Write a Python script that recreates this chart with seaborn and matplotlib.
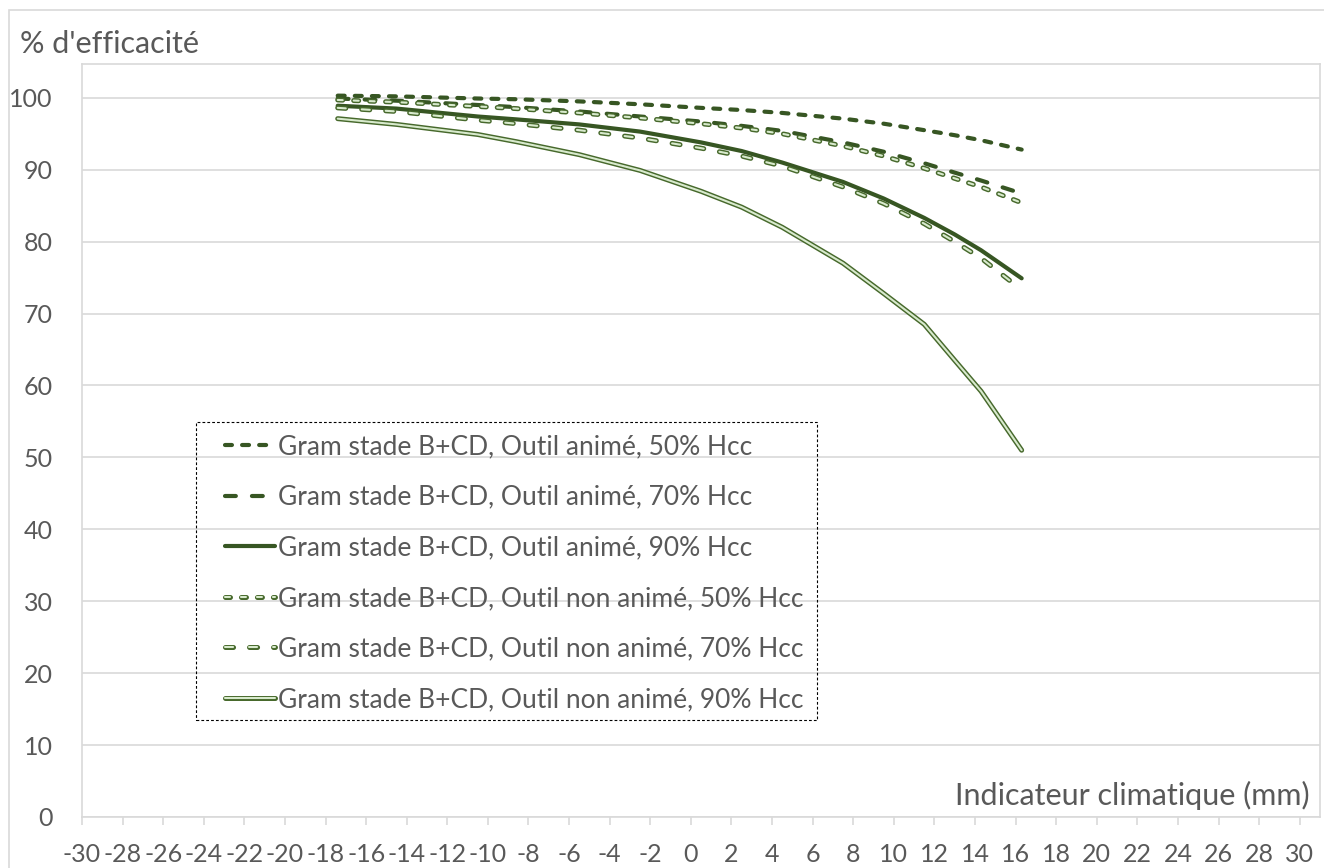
import numpy as np
import pandas as pd
import matplotlib
matplotlib.use("Agg")
import matplotlib.pyplot as plt
import matplotlib.patheffects as pe
from matplotlib.patches import Rectangle
import seaborn as sns

# valeurs
indicateur = [-17.4, -14.5, -10.5, -8.6, -5.5, -2.5, 0.5, 2.5, 4.5, 7.5, 9.5, 11.5, 13.0, 14.3, 16.3]

anime_50 = [100.3, 100.2, 99.9, 99.8, 99.5, 99.1, 98.6, 98.3, 97.9, 97.1, 96.4, 95.5, 94.8, 94.1, 92.8]
anime_70 = [99.9, 99.6, 99.0, 98.7, 98.1, 97.4, 96.7, 96.1, 95.4, 93.8, 92.5, 90.9, 89.6, 88.5, 86.7]
anime_90 = [98.9, 98.5, 97.4, 97.0, 96.3, 95.3, 93.8, 92.6, 91.0, 88.3, 86.0, 83.3, 81.0, 78.8, 74.9]
non_anime_50 = [99.7, 99.4, 98.8, 98.5, 97.9, 97.2, 96.4, 95.8, 95.0, 93.3, 91.9, 90.2, 88.8, 87.6, 85.4]
non_anime_70 = [98.6, 98.1, 96.9, 96.4, 95.5, 94.4, 93.0, 91.9, 90.5, 87.6, 85.3, 82.5, 80.0, 77.7, 73.3]
non_anime_90 = [97.1, 96.3, 94.9, 93.9, 92.1, 89.9, 87.0, 84.8, 82.0, 77.0, 72.8, 68.5, 63.5, 59.2, 51.0]

labels = [
    "Gram stade B+CD, Outil animé, 50% Hcc",
    "Gram stade B+CD, Outil animé, 70% Hcc",
    "Gram stade B+CD, Outil animé, 90% Hcc",
    "Gram stade B+CD, Outil non animé, 50% Hcc",
    "Gram stade B+CD, Outil non animé, 70% Hcc",
    "Gram stade B+CD, Outil non animé, 90% Hcc",
]
series = [anime_50, anime_70, anime_90, non_anime_50, non_anime_70, non_anime_90]

x_ticks = list(range(-30, 31, 2))
y_ticks = list(range(0, 101, 10))

sns.set_style("white")
plt.rcParams['font.family'] = ['Lato', 'DejaVu Sans']
plt.rcParams['lines.scale_dashes'] = False

vert_fonce = '#375623'
bord_clair = '#47692c'
fond_clair = '#d8eacd'
gris_txt = '#595959'
gris_grille = '#d9d9d9'

W, H = 1324, 868
fig = plt.figure(figsize=(W / 100, H / 100), dpi=100)
ax = fig.add_axes([82 / W, 1 - 817 / H, (1320 - 82) / W, (817 - 64) / H])

# style de chaque courbe
styles = [
    dict(color=vert_fonce, lw=3.0, linestyle=(0, (5.0, 7.3))),
    dict(color=vert_fonce, lw=3.0, linestyle=(0, (7.8, 11.6))),
    dict(color=vert_fonce, lw=3.0, linestyle='-'),
    dict(color=fond_clair, lw=1.5, linestyle=(0, (3.6, 7.9))),
    dict(color=fond_clair, lw=1.5, linestyle=(0, (5.8, 11.5))),
    dict(color=fond_clair, lw=1.5, linestyle='-'),
]

for i, (vals, lab, st) in enumerate(zip(series, labels, styles)):
    df = pd.DataFrame({'x': indicateur, 'y': vals})
    kw = dict(st)
    if i >= 3:
        kw['path_effects'] = [pe.Stroke(linewidth=3.6, foreground=bord_clair), pe.Normal()]
    sns.lineplot(data=df, x='x', y='y', ax=ax, label=lab, dash_capstyle='round',
                 solid_capstyle='round', **kw)

ax.set_xlim(-30, 31)
ax.set_ylim(0, 104.7)
ax.set_xticks(x_ticks)
ax.set_yticks(y_ticks)
ax.set_xticklabels([str(v) for v in x_ticks])
ax.set_xlabel('')
ax.set_ylabel('')
ax.yaxis.grid(True, color=gris_grille, lw=1.2)
ax.xaxis.grid(False)
for s in ax.spines.values():
    s.set_color(gris_grille)
    s.set_linewidth(1.2)
ax.tick_params(axis='x', direction='out', length=6, width=1.2, color=gris_grille,
               labelsize=18, labelcolor=gris_txt, pad=13, bottom=True)
ax.tick_params(axis='y', length=0, labelsize=18, labelcolor=gris_txt, pad=21)

# titres des axes
fig.text(20 / W, 1 - 53 / H, "% d'efficacité", fontsize=22, color=gris_txt, va='baseline', ha='left')
fig.text(1310 / W, 1 - 805 / H, "Indicateur climatique (mm)", fontsize=22, color=gris_txt,
         va='baseline', ha='right')

# légende avec cadre pointillé
leg = ax.legend(loc='upper left', bbox_to_anchor=(212 / W, 1 - 421 / H),
                bbox_transform=fig.transFigure, frameon=False, fontsize=19,
                borderpad=0, labelspacing=0.97, handlelength=1.9, handletextpad=0.12,
                labelcolor=gris_txt)
fig.patches.append(Rectangle((196 / W, 1 - 720 / H), (817 - 196) / W, (720 - 422) / H,
                             transform=fig.transFigure, fill=False, edgecolor='black',
                             lw=0.8, linestyle=(0, (2, 1.5)), zorder=5))

# bordure extérieure du graphique
fig.patches.append(Rectangle((9 / W, -0.05), 1.1, 1 - 10 / H + 0.05, transform=fig.transFigure,
                             fill=False, edgecolor=gris_grille, lw=1.2))

fig.savefig('out.png', dpi=100)
